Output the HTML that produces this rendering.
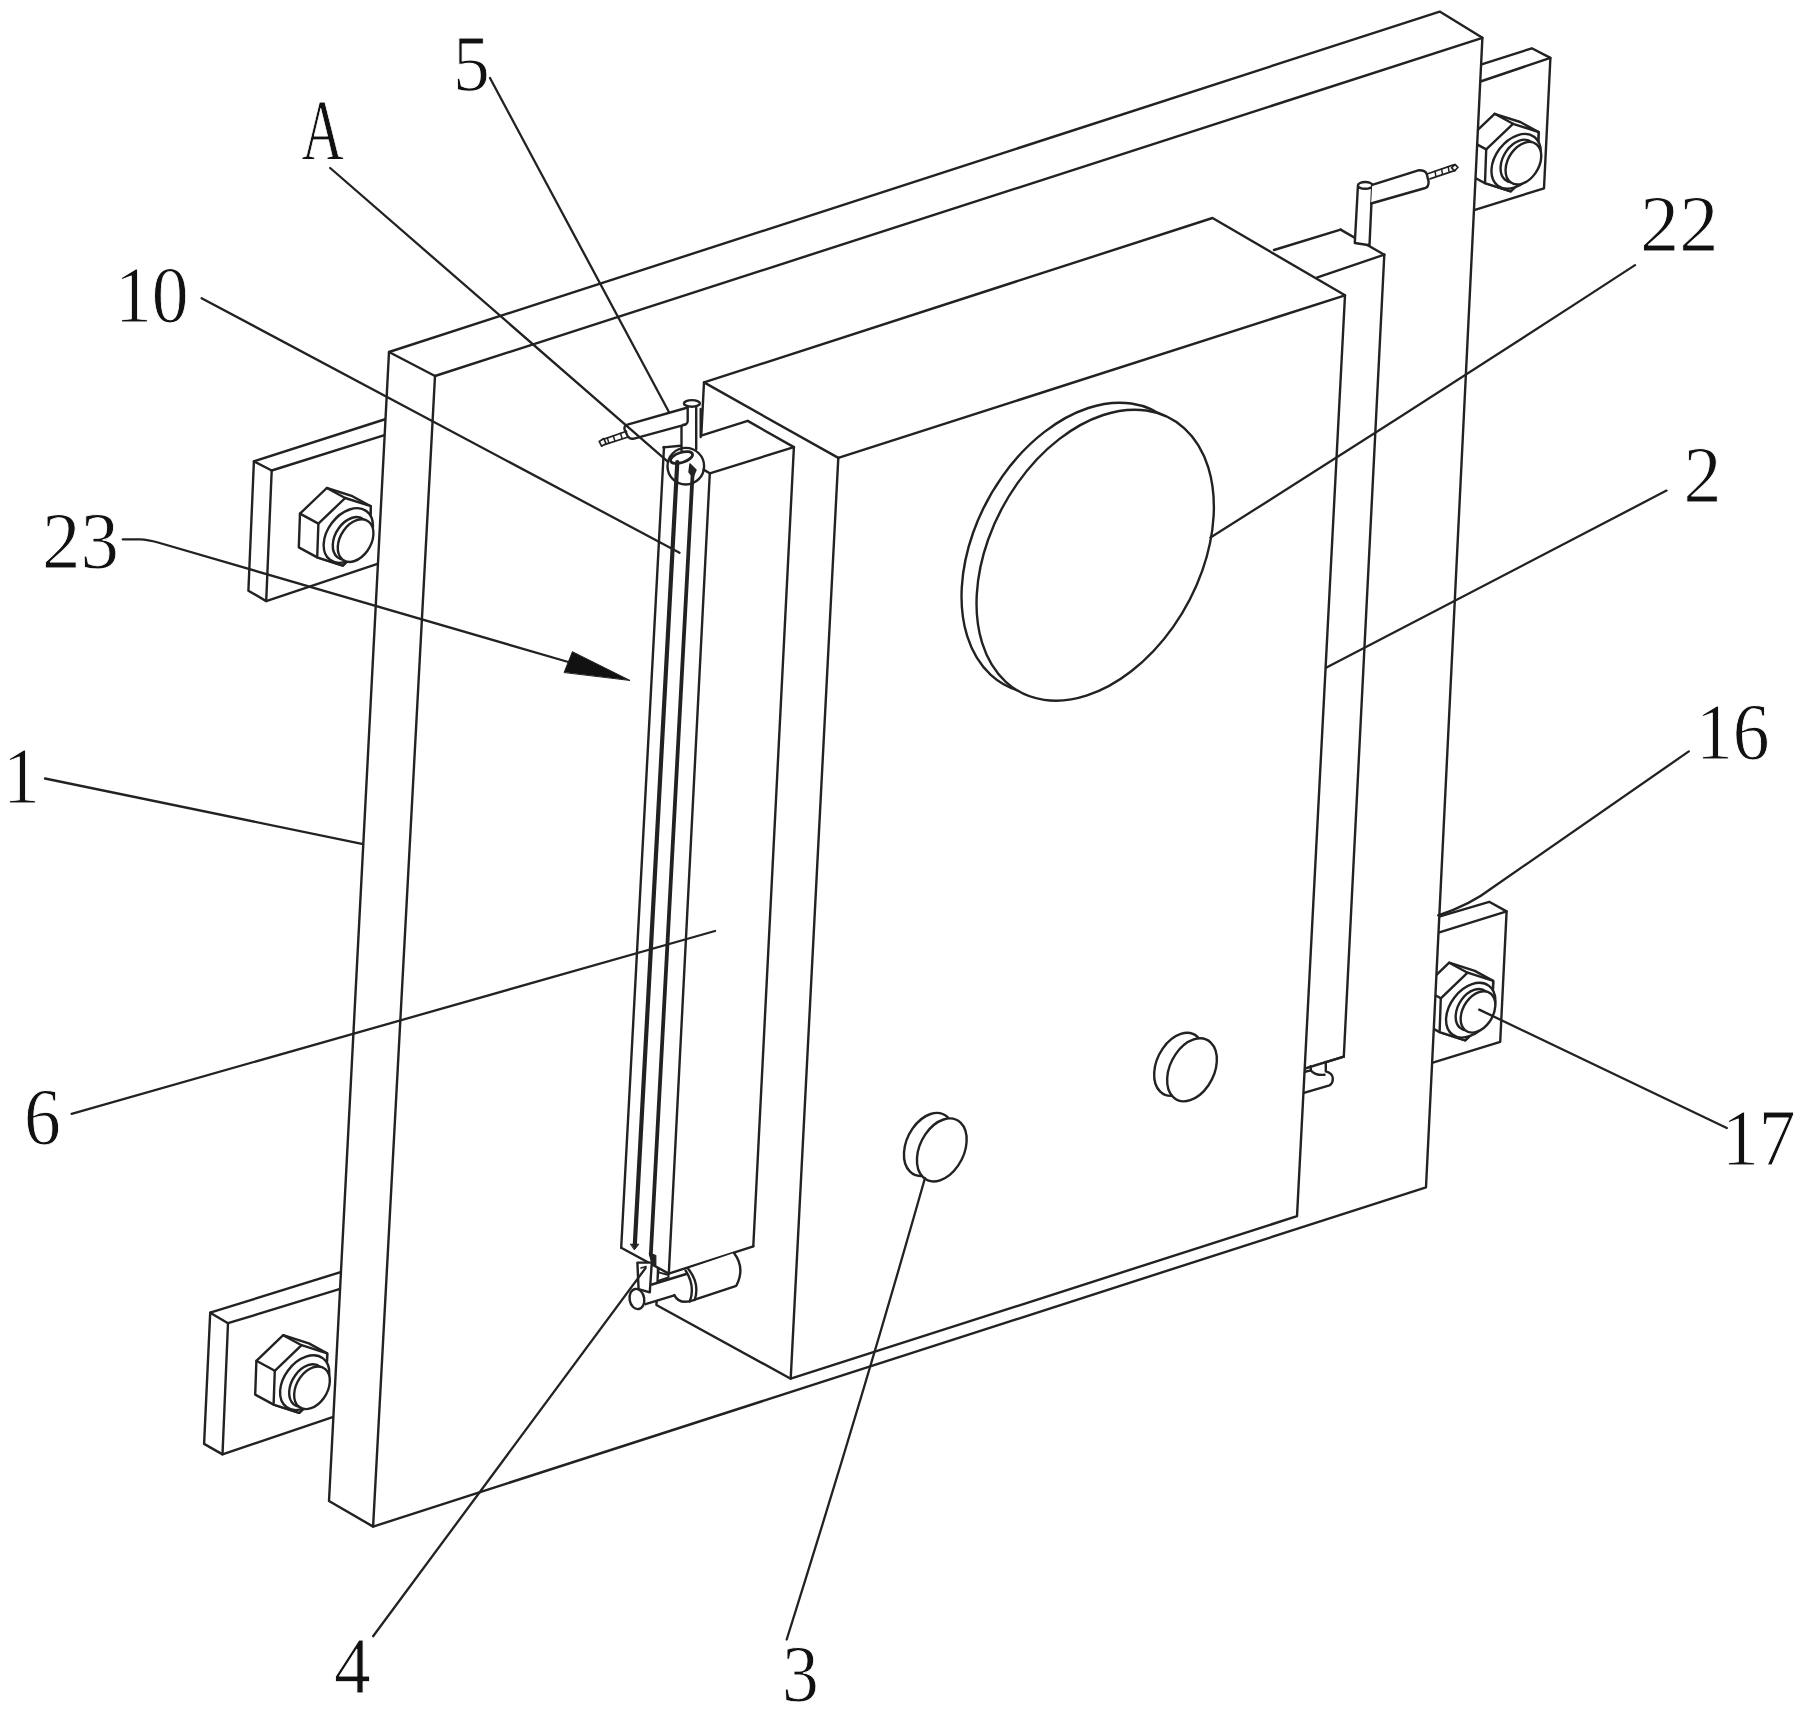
<!DOCTYPE html>
<html><head><meta charset="utf-8"><title>Figure</title>
<style>
html,body{margin:0;padding:0;background:#fff;}
body{width:1806px;height:1712px;overflow:hidden;font-family:"Liberation Serif",serif;}
svg{display:block;}
svg *{stroke-linejoin:round;stroke-linecap:round;}
text{font-family:"Liberation Serif",serif;fill:#111;stroke:#fff;stroke-width:0.9px;}
</style></head><body>
<svg width="1806" height="1712" viewBox="0 0 1806 1712" fill="none" stroke="#222" stroke-width="2.4">
<rect x="0" y="0" width="1806" height="1712" fill="#fff" stroke="none"/>
<polygon points="253.9,461.3 389,418 388.5,433.9 381.2,562.6 266.2,601.1 248.4,590.7" fill="#fff"/>
<line x1="271.7" y1="470.5" x2="388.5" y2="433.9"/>
<line x1="271.7" y1="470.5" x2="266.2" y2="601.1"/>
<line x1="253.9" y1="461.3" x2="271.7" y2="470.5"/>
<polygon points="352.4,496.2 326.8,488 300,513.6 298.8,547.4 317.2,557.4 342.8,565.6 369.6,540 370.8,506.2" fill="#fff"/>
<polygon points="345.2,498 318.4,523.6 317.2,557.4 342.8,565.6 369.6,540 370.8,506.2" fill="#fff"/>
<line x1="326.8" y1="488" x2="345.2" y2="498"/>
<line x1="300" y1="513.6" x2="318.4" y2="523.6"/>
<circle r="1" transform="matrix(24.6,-8.36,1.31,-26,348.3,535.5)" fill="#fff" vector-effect="non-scaling-stroke"/>
<circle r="1" transform="matrix(17.8,-6.07,1.03,-20.4,350.6,538.4)" fill="#fff" vector-effect="non-scaling-stroke"/>
<circle r="1" transform="matrix(17.8,-6.07,1.03,-20.4,355.6,540.6)" fill="#fff" vector-effect="non-scaling-stroke"/>
<polygon points="210.2,1312.7 345.5,1270.6 344.2,1287.7 336.3,1415.9 222.5,1454.4 204.1,1443.9" fill="#fff"/>
<line x1="228" y1="1323.2" x2="344.2" y2="1287.7"/>
<line x1="228" y1="1323.2" x2="222.5" y2="1454.4"/>
<line x1="210.2" y1="1312.7" x2="228" y2="1323.2"/>
<polygon points="308.8,1343.4 283.2,1335.2 256.4,1360.8 255.2,1394.6 273.6,1404.6 299.2,1412.8 326,1387.2 327.2,1353.4" fill="#fff"/>
<polygon points="301.6,1345.2 274.8,1370.8 273.6,1404.6 299.2,1412.8 326,1387.2 327.2,1353.4" fill="#fff"/>
<line x1="283.2" y1="1335.2" x2="301.6" y2="1345.2"/>
<line x1="256.4" y1="1360.8" x2="274.8" y2="1370.8"/>
<circle r="1" transform="matrix(24.6,-8.36,1.31,-26,304.7,1382.7)" fill="#fff" vector-effect="non-scaling-stroke"/>
<circle r="1" transform="matrix(17.8,-6.07,1.03,-20.4,307,1385.6)" fill="#fff" vector-effect="non-scaling-stroke"/>
<circle r="1" transform="matrix(17.8,-6.07,1.03,-20.4,312,1387.8)" fill="#fff" vector-effect="non-scaling-stroke"/>
<polygon points="1480,64.8 1531.8,48.3 1550.4,57.9 1544,188.3 1472.5,210.6" fill="#fff"/>
<line x1="1479" y1="82" x2="1550.4" y2="57.9"/>
<polygon points="1520.2,122 1494.6,113.8 1467.8,139.4 1466.6,173.2 1485,183.2 1510.6,191.4 1537.4,165.8 1538.6,132" fill="#fff"/>
<polygon points="1513,123.8 1486.2,149.4 1485,183.2 1510.6,191.4 1537.4,165.8 1538.6,132" fill="#fff"/>
<line x1="1494.6" y1="113.8" x2="1513" y2="123.8"/>
<line x1="1467.8" y1="139.4" x2="1486.2" y2="149.4"/>
<circle r="1" transform="matrix(24.6,-8.36,1.31,-26,1516.1,161.3)" fill="#fff" vector-effect="non-scaling-stroke"/>
<circle r="1" transform="matrix(17.8,-6.07,1.03,-20.4,1518.4,161)" fill="#fff" vector-effect="non-scaling-stroke"/>
<circle r="1" transform="matrix(17.8,-6.07,1.03,-20.4,1523.4,163.2)" fill="#fff" vector-effect="non-scaling-stroke"/>
<polygon points="1434,918.2 1489.2,901.8 1506.6,911.4 1500.2,1041.8 1428,1064.1" fill="#fff"/>
<line x1="1433" y1="934.3" x2="1506.6" y2="911.4"/>
<polygon points="1474.8,970.9 1449.2,962.7 1422.4,988.3 1421.2,1022.1 1439.6,1032.1 1465.2,1040.3 1492,1014.7 1493.2,980.9" fill="#fff"/>
<polygon points="1467.6,972.7 1440.8,998.3 1439.6,1032.1 1465.2,1040.3 1492,1014.7 1493.2,980.9" fill="#fff"/>
<line x1="1449.2" y1="962.7" x2="1467.6" y2="972.7"/>
<line x1="1422.4" y1="988.3" x2="1440.8" y2="998.3"/>
<circle r="1" transform="matrix(24.6,-8.36,1.31,-26,1470.7,1010.2)" fill="#fff" vector-effect="non-scaling-stroke"/>
<circle r="1" transform="matrix(17.3,-5.89,1.00,-19.8,1473,1009.7)" fill="#fff" vector-effect="non-scaling-stroke"/>
<circle r="1" transform="matrix(17.3,-5.89,1.00,-19.8,1478,1011.9)" fill="#fff" vector-effect="non-scaling-stroke"/>
<polygon points="389,352 1439.7,11.6 1482.4,37.8 1426,1187.3 373.1,1526.6 329,1501" fill="#fff"/>
<line x1="435" y1="376" x2="1482.4" y2="37.8"/>
<line x1="435" y1="376" x2="373.1" y2="1526.6"/>
<line x1="389" y1="352" x2="435" y2="376"/>
<polygon points="1268,256 1340.6,229.6 1384.3,254.7 1343.8,1056.6 1300,1070.2 1312,282" fill="#fff" stroke-width="0"/>
<line x1="1274" y1="250" x2="1340.6" y2="229.6"/>
<line x1="1340.6" y1="229.6" x2="1384.3" y2="254.7"/>
<line x1="1384.3" y1="254.7" x2="1343.8" y2="1056.6"/>
<line x1="1343.8" y1="1056.6" x2="1300" y2="1070.2"/>
<line x1="1316.8" y1="277.6" x2="1384.3" y2="254.7"/>
<path d="M1357.9,186.4 L1354.8,243 L1369.5,245.3 L1372.2,186.4 Z" fill="#fff" stroke-width="0"/>
<path d="M1357.9,186.4 L1354.8,243 L1369.5,245.3 L1372.2,186.4" fill="none"/>
<ellipse cx="1365.2" cy="185.4" rx="7.3" ry="3.4" fill="#fff"/>
<path d="M1372.2,184.9 L1419.1,170.2 Q1425.8,170.2 1426.8,174.2 L1428.6,181.5 Q1428.8,186.8 1425.3,188 L1371.1,203.5" fill="#fff"/>
<line x1="1427" y1="174" x2="1453.5" y2="164.9" stroke-width="1.7"/>
<line x1="1430" y1="178.9" x2="1455.2" y2="170.4" stroke-width="1.7"/>
<line x1="1435" y1="171.2" x2="1435.8" y2="176" stroke-width="1.5"/>
<line x1="1441.6" y1="169" x2="1442.4" y2="173.8" stroke-width="1.5"/>
<line x1="1448.2" y1="166.7" x2="1449" y2="171.5" stroke-width="1.5"/>
<path d="M1451.5,167.8 L1455,164.3 L1458,167.3 L1454.8,170.8 Z" fill="#fff" stroke-width="1.7"/>
<path d="M1304,1068 L1325.8,1061.5 L1325.8,1071.4 Q1332.5,1073.5 1332.8,1078 Q1333,1083.5 1329.5,1085.4 L1303.9,1092.8" fill="#fff" stroke-width="0"/>
<path d="M1325.8,1062 L1325.8,1071.4 Q1332.5,1073.5 1332.8,1078 Q1333,1083.5 1329.5,1085.4 L1303.9,1092.8" fill="none"/>
<path d="M1304,1072 L1310.9,1070.4 Q1315,1075.5 1324.5,1074.8" fill="none"/>
<line x1="1310.6" y1="1066.2" x2="1310.9" y2="1070.4"/>
<line x1="1343.8" y1="1056.6" x2="1300" y2="1070.2"/>
<polygon points="704,382.4 1212.5,218 1345,295.3 1297,1216.2 790.7,1378.7 656.4,1305" fill="#fff"/>
<line x1="838.3" y1="457.9" x2="1345" y2="295.3"/>
<line x1="838.3" y1="457.9" x2="790.7" y2="1378.7"/>
<line x1="704" y1="382.4" x2="838.3" y2="457.9"/>
<circle r="1" transform="matrix(118.4,-38.90,-8.10,140.2,1080.2,548.2)" fill="#fff" vector-effect="non-scaling-stroke"/>
<circle r="1" transform="matrix(118.4,-38.90,-8.10,140.2,1095.2,555.2)" fill="#fff" vector-effect="non-scaling-stroke"/>
<circle r="1" transform="matrix(24.8,-8.15,-1.75,30.4,928.8,1144.4)" fill="#fff" vector-effect="non-scaling-stroke"/>
<circle r="1" transform="matrix(24.8,-8.15,-1.75,30.4,941.8,1149.9)" fill="#fff" vector-effect="non-scaling-stroke"/>
<circle r="1" transform="matrix(24.8,-8.15,-1.75,30.4,1179,1064.3)" fill="#fff" vector-effect="non-scaling-stroke"/>
<circle r="1" transform="matrix(24.8,-8.15,-1.75,30.4,1192,1069.8)" fill="#fff" vector-effect="non-scaling-stroke"/>
<polygon points="664,447 701.9,435.4 747.7,420.9 793.9,447.1 753.3,1246.3 668.8,1273.6 621.2,1247.8" fill="#fff" stroke-width="0"/>
<line x1="701.9" y1="435.4" x2="747.7" y2="420.9"/>
<line x1="747.7" y1="420.9" x2="793.9" y2="447.1"/>
<line x1="793.9" y1="447.1" x2="753.3" y2="1246.3"/>
<line x1="753.3" y1="1246.3" x2="668.8" y2="1273.6"/>
<line x1="668.8" y1="1273.6" x2="621.2" y2="1247.8"/>
<line x1="621.2" y1="1247.8" x2="664" y2="447"/>
<line x1="709.8" y1="473.3" x2="793.9" y2="447.1"/>
<line x1="709.8" y1="473.3" x2="668.8" y2="1273.6"/>
<line x1="703.5" y1="469.6" x2="709.8" y2="473.3"/>
<path d="M688.2,1268.8 L734,1252.9 Q745.5,1268 736.3,1285.8 L696,1299.2 Q699.5,1284 688.2,1268.8 Z" fill="#fff" stroke-width="0"/>
<path d="M734,1252.9 Q745.5,1268 736.3,1285.8 L695.5,1299.3" fill="none"/>
<path d="M688.2,1268.8 Q700,1283.5 694.8,1299.6" fill="none"/>
<path d="M646,1286.8 L686.3,1274 L686.5,1291.9 L647.1,1303.8 Z" fill="#fff" stroke-width="0"/>
<line x1="652" y1="1284.5" x2="686.3" y2="1274"/>
<line x1="645.5" y1="1304.2" x2="674.3" y2="1295.4"/>
<path d="M685.6,1270.5 Q695.5,1286 689.8,1301.5" fill="none"/>
<path d="M674.3,1295.1 Q679.5,1305.5 694.6,1299.8" fill="none"/>
<ellipse cx="636.9" cy="1299" rx="7.3" ry="10.2" fill="#fff" transform="rotate(-10 636.9 1299)"/>
<polygon points="637.4,1262.6 651.8,1262.6 649.8,1292.4 638.6,1289.2" fill="#fff"/>
<path d="M641,1268 L646,1266.5" fill="none" stroke-width="1.6"/>
<line x1="658" y1="1268.8" x2="658" y2="1280.6"/>
<path d="M659.5,1272.6 L668.5,1275 L668.5,1277.5 L658.5,1280.6" fill="#fff" stroke-width="2"/>
<line x1="677.3" y1="462" x2="634.8" y2="1245" stroke-width="4.2"/>
<line x1="692.8" y1="470" x2="650.8" y2="1255" stroke-width="3.8"/>
<path d="M630.8,1244.2 L638.8,1244.2 L634.6,1249.6 Z" fill="#222" stroke-width="1"/>
<path d="M649.3,1253 L655.8,1255.5 L655.8,1265.5 L651.5,1262.5 Z" fill="#222" stroke-width="1.2"/>
<path d="M627.5,424.6 L684.6,408.4 L688,408.4 L688,423 L685.3,424.6 L634,438.6 Q629.5,439.6 627.6,436 L624.6,429.6 Q623.6,425.8 627.5,424.6 Z" fill="#fff" stroke-width="0"/>
<path d="M686,408 L627.5,424.6 Q623.6,425.8 624.6,429.6 L627.6,436 Q629.5,439.6 634,438.6 L685.3,424.6" fill="none"/>
<path d="M687.7,404 L696.2,404 L696.2,449 L687.7,449 Z" fill="#fff" stroke-width="0"/>
<path d="M687.7,404 L687.7,421 Q687.5,424.5 683.5,424.8" fill="none"/>
<line x1="696.2" y1="404" x2="696.2" y2="449"/>
<line x1="700.7" y1="409" x2="700.7" y2="437"/>
<ellipse cx="691.9" cy="403.4" rx="8" ry="3.3" fill="#fff"/>
<line x1="681.5" y1="426.5" x2="681.5" y2="450.5"/>
<line x1="663.3" y1="447.4" x2="680.7" y2="445.8"/>
<line x1="626.5" y1="431.2" x2="602.5" y2="439.6" stroke-width="1.7"/>
<line x1="629" y1="436.8" x2="604.5" y2="444.6" stroke-width="1.7"/>
<line x1="620.5" y1="433.3" x2="622.1" y2="438.5" stroke-width="1.5"/>
<line x1="613.3" y1="435.8" x2="614.9" y2="441" stroke-width="1.5"/>
<line x1="607.3" y1="437.9" x2="608.9" y2="443.1" stroke-width="1.5"/>
<path d="M603.8,438.6 L599.2,441.4 L601.6,446.2 L606,443.4 Z" fill="#fff" stroke-width="1.7"/>
<circle cx="685.8" cy="466.2" r="18.3" fill="none"/>
<ellipse cx="681.5" cy="457.5" rx="11.5" ry="5" fill="none" transform="rotate(-18 681.5 457.5)" stroke-width="2.8"/>
<path d="M690,464 L696,470 L693,477 L689,472 Z" fill="#222" stroke-width="1.5"/>
<path d="M490,78 L669.2,412.5" fill="none" stroke-width="2.3"/>
<path d="M330.2,168 L667.5,461.3" fill="none" stroke-width="2.3"/>
<path d="M201.6,298.2 L679.5,552.7" fill="none" stroke-width="2.3"/>
<path d="M122.7,539.3 L140,539.3 Q148,539.5 158,542.5 L568.3,662" fill="none" stroke-width="2.3"/>
<path d="M629.7,680.3 L572.4,651.7 L564.2,672.2 Z" fill="#111" stroke-width="1"/>
<path d="M45,778.5 L361.9,843.9" fill="none" stroke-width="2.3"/>
<path d="M71.6,1113.8 L715,931" fill="none" stroke-width="2.3"/>
<path d="M373.1,1636.2 L645.6,1268" fill="none" stroke-width="2.3"/>
<path d="M786.7,1639.5 Q862,1400 925,1178" fill="none" stroke-width="2.3"/>
<path d="M1635,265.1 Q1425,402 1210.5,537.5" fill="none" stroke-width="2.3"/>
<path d="M1666.5,490.6 L1326.5,667.5" fill="none" stroke-width="2.3"/>
<path d="M1688.8,751.4 L1492,888 Q1470,905 1438.2,915.4" fill="none" stroke-width="2.3"/>
<path d="M1479.2,1009.6 L1726.8,1128" fill="none" stroke-width="2.3"/>
<text transform="translate(453,90.5) scale(0.92,1)" font-size="80">5</text>
<text transform="translate(301.5,158.7) scale(0.68,1)" font-size="86">A</text>
<text transform="translate(115,321.5) scale(0.92,1)" font-size="80">10</text>
<text transform="translate(42,567.9) scale(0.96,1)" font-size="80">23</text>
<text transform="translate(3,803) scale(0.92,1)" font-size="80">1</text>
<text transform="translate(24,1144.4) scale(0.92,1)" font-size="80">6</text>
<text transform="translate(334,1692.7) scale(0.92,1)" font-size="80">4</text>
<text transform="translate(782,1701) scale(0.92,1)" font-size="80">3</text>
<text transform="translate(1640,251.1) scale(0.98,1)" font-size="80">22</text>
<text transform="translate(1683.5,502.3) scale(0.95,1)" font-size="80">2</text>
<text transform="translate(1696,759) scale(0.92,1)" font-size="80">16</text>
<text transform="translate(1722,1164.5) scale(0.92,1)" font-size="80">17</text>
</svg>
</body></html>
